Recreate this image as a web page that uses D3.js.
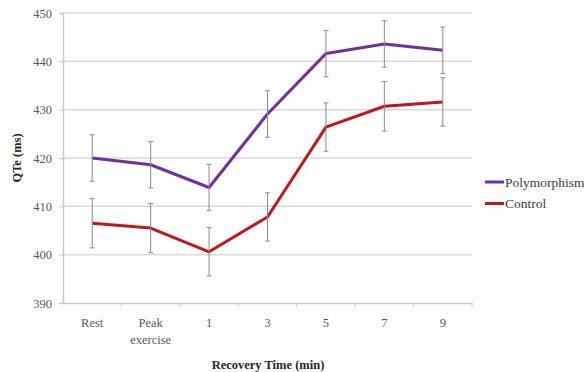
<!DOCTYPE html>
<html><head><meta charset="utf-8">
<script src="https://cdn.jsdelivr.net/npm/d3@7/dist/d3.min.js"></script>
<style>body{margin:0;background:#fff}svg{display:block}</style>
</head><body>
<script>
const categories = ["Rest", "Peak exercise", "1", "3", "5", "7", "9"];
const polymorphism = [420.0, 418.6, 413.9, 429.1, 441.6, 443.6, 442.3];
const polymorphismErr = [4.8, 4.8, 4.8, 4.8, 4.8, 4.8, 4.8];
const control = [406.5, 405.5, 400.6, 407.8, 426.4, 430.7, 431.6];
const controlErr = [5.1, 5.1, 5.0, 5.0, 5.0, 5.1, 5.0];
const yTicks = [390, 400, 410, 420, 430, 440, 450];
const seriesNames = ["Polymorphism", "Control"];

const W = 588, H = 372;
const svg = d3.select("body").append("svg").attr("width", W).attr("height", H);
const x = d3.scaleBand().domain(categories).range([63, 472]);
const y = d3.scaleLinear().domain([390, 450]).range([303, 13]);
const font = "'Times New Roman', serif";

// gridlines
svg.append("g").selectAll("line").data(yTicks.filter(d => d > 390)).join("line")
  .attr("x1", 63).attr("x2", 472).attr("y1", d => y(d)).attr("y2", d => y(d))
  .attr("stroke", "#d9d9d9").attr("stroke-width", 1.5);

// y axis
const yAxis = svg.append("g").attr("transform", "translate(63,0)")
  .call(d3.axisLeft(y).tickValues(yTicks).tickSize(4).tickPadding(7));
yAxis.attr("font-family", null);
yAxis.select(".domain").attr("stroke", "#c8c8c8").attr("stroke-width", 1.5);
yAxis.selectAll(".tick line").attr("stroke", "#c8c8c8");
yAxis.selectAll("text").style("font-family", font).attr("font-size", 12.5).attr("fill", "#595959");

// x axis
const xAxis = svg.append("g").attr("transform", "translate(0,303)")
  .call(d3.axisBottom(x).tickSize(0).tickPadding(15));
xAxis.attr("font-family", null);
xAxis.select(".domain").attr("stroke", "#c8c8c8").attr("stroke-width", 1.5);
xAxis.selectAll("text").style("font-family", font).attr("font-size", 12.5).attr("fill", "#595959")
  .each(function(d) {
    const t = d3.select(this);
    const words = d.split(" ");
    if (words.length > 1) {
      t.text(null);
      words.forEach((w, i) => t.append("tspan").attr("x", 0).attr("dy", i === 0 ? "0.71em" : "1.4em").text(w));
      t.attr("dy", null);
    }
  });
// category separator ticks
svg.append("g").selectAll("line").data(categories).join("line")
  .attr("x1", d => x(d) + x.bandwidth()).attr("x2", d => x(d) + x.bandwidth())
  .attr("y1", 303).attr("y2", 307).attr("stroke", "#c8c8c8");

// series
const series = [
  {name: seriesNames[0], vals: polymorphism, err: polymorphismErr, color: "#7030a0"},
  {name: seriesNames[1], vals: control, err: controlErr, color: "#c0171c"}
];
const cx = d => x(d) + x.bandwidth() / 2;
series.forEach(s => {
  const line = d3.line().x((d, i) => cx(categories[i])).y(d => y(d));
  svg.append("path").datum(s.vals).attr("d", line).attr("fill", "none")
    .attr("stroke", s.color).attr("stroke-width", 3).attr("stroke-linejoin", "round");
  const eg = svg.append("g").attr("stroke", "#8c8c8c").attr("stroke-width", 1);
  s.vals.forEach((v, i) => {
    const px = cx(categories[i]);
    eg.append("line").attr("x1", px).attr("x2", px).attr("y1", y(v + s.err[i])).attr("y2", y(v - s.err[i]));
    eg.append("line").attr("x1", px - 2.5).attr("x2", px + 2.5).attr("y1", y(v + s.err[i])).attr("y2", y(v + s.err[i]));
    eg.append("line").attr("x1", px - 2.5).attr("x2", px + 2.5).attr("y1", y(v - s.err[i])).attr("y2", y(v - s.err[i]));
  });
});

// legend
const lg = svg.append("g");
series.forEach((s, i) => {
  const ly = 182 + i * 21.5;
  lg.append("line").attr("x1", 485).attr("x2", 504).attr("y1", ly).attr("y2", ly)
    .attr("stroke", s.color).attr("stroke-width", 3);
  lg.append("text").attr("x", 505).attr("y", ly).attr("dy", "0.35em")
    .style("font-family", font).attr("font-size", 13.5).attr("fill", "#404040").text(s.name);
});

// axis titles
svg.append("text").attr("transform", "translate(21,158) rotate(-90)").attr("text-anchor", "middle")
  .style("font-family", font).attr("font-size", 12.5).attr("font-weight", "bold").attr("fill", "#262626").text("QTe (ms)");
svg.append("text").attr("x", 268).attr("y", 369).attr("text-anchor", "middle")
  .style("font-family", font).attr("font-size", 12.5).attr("font-weight", "bold").attr("fill", "#262626").text("Recovery Time (min)");
</script>
</body></html>
